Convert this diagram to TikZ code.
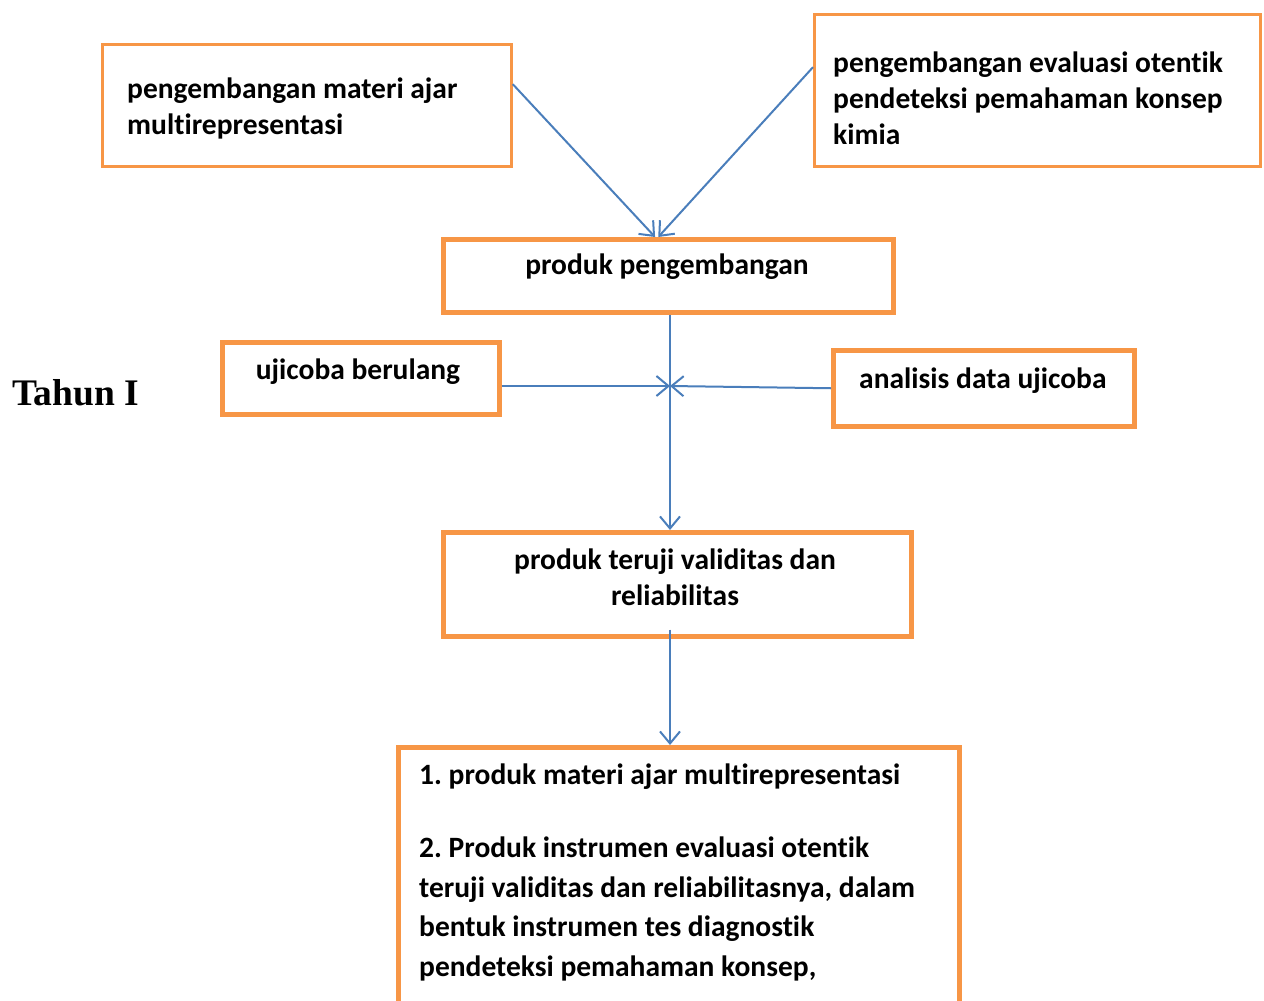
\documentclass[tikz,border=0pt]{standalone}
\usepackage{fontspec}
\setmainfont{Carlito}[BoldFont={Carlito Bold},Ligatures={NoCommon}]
\newfontfamily\timesfont{Liberation Serif}[BoldFont={Liberation Serif Bold}]
\usetikzlibrary{arrows.meta,calc}
\definecolor{boxorange}{HTML}{F79646}
\definecolor{arrblue}{HTML}{4A7EBB}
\frenchspacing
\tikzset{
  boxthin/.style={draw=boxorange, line width=2.8pt, anchor=north west, inner sep=0pt},
  boxthick/.style={draw=boxorange, line width=4.5pt, anchor=north west, inner sep=0pt},
  txt/.style={font=\fontsize{29.5}{36}\selectfont\bfseries, inner sep=0pt, align=left},
  arr/.style={draw=arrblue, line width=2pt, -{Straight Barb[length=12pt,width=20pt,line width=2pt]}},
  plain/.style={draw=arrblue, line width=2pt}
}
\begin{document}
\begin{tikzpicture}[x=1pt,y=-1pt]
\useasboundingbox (0,0) rectangle (1264,1001);
\clip (0,0) rectangle (1264,1001);
% boxes
\node[boxthin, minimum width=409pt, minimum height=122pt] (b1) at (101,43) {};
\node[boxthin, minimum width=446pt, minimum height=152pt] (b2) at (813,13) {};
\node[boxthick, minimum width=450pt, minimum height=73pt] (b3) at (441,237) {};
\node[boxthick, minimum width=277pt, minimum height=72pt] (b4) at (220,340) {};
\node[boxthick, minimum width=301pt, minimum height=76pt] (b5) at (831,348) {};
\node[boxthick, minimum width=468pt, minimum height=104pt] (b6) at (441,530) {};
\node[boxthick, minimum width=561pt, minimum height=320pt] (b7) at (396,745) {};
% texts
\node[txt, anchor=base west] (t1) at (127,134) {pengembangan materi ajar\\multirepresentasi};
\node[txt, anchor=base west] (t2) at (833,144) {pengembangan evaluasi otentik\\pendeteksi pemahaman konsep\\kimia};
\node[txt, anchor=base] (t3) at (667,274) {produk pengembangan};
\node[txt, anchor=base] (t4) at (358,379) {ujicoba berulang};
\node[txt, anchor=base west] (t5) at (859,388) {analisis data ujicoba};
\node[txt, anchor=base, align=center] (t6) at (675,605) {produk teruji validitas dan\\reliabilitas};
\node[txt, anchor=base west, font=\fontsize{29.5}{39.5}\selectfont\bfseries] (t7) at (419,784) {1. produk materi ajar multirepresentasi};
\node[txt, anchor=base west, font=\fontsize{29.5}{39.5}\selectfont\bfseries] (t8) at (419,976) {2. Produk instrumen evaluasi otentik\\teruji validitas dan reliabilitasnya, dalam\\bentuk instrumen tes diagnostik\\pendeteksi pemahaman konsep,};
\node[anchor=base west, inner sep=0pt, font=\timesfont\fontsize{37.5}{40}\selectfont\bfseries] (tahun) at (12,405) {Tahun I};
% connectors
\coordinate (x) at (670,386);
\draw[arr] ($(b1.north east)!0.33!(b1.south east)$) -- ($(b3.north west)!0.471!(b3.north east)$);
\draw[arr] ($(b2.north west)!0.35!(b2.south west)$) -- ($(b3.north west)!0.478!(b3.north east)$);
\draw[arr] (b3.south -| x) -- (b6.north -| x);
\draw[arr] (b4.east |- x) -- (x);
\draw[arr] (b5.west) -- (x);
\draw[arr] ($(b6.south -| x)+(0,-9)$) -- (b7.north -| x);
\end{tikzpicture}
\end{document}
